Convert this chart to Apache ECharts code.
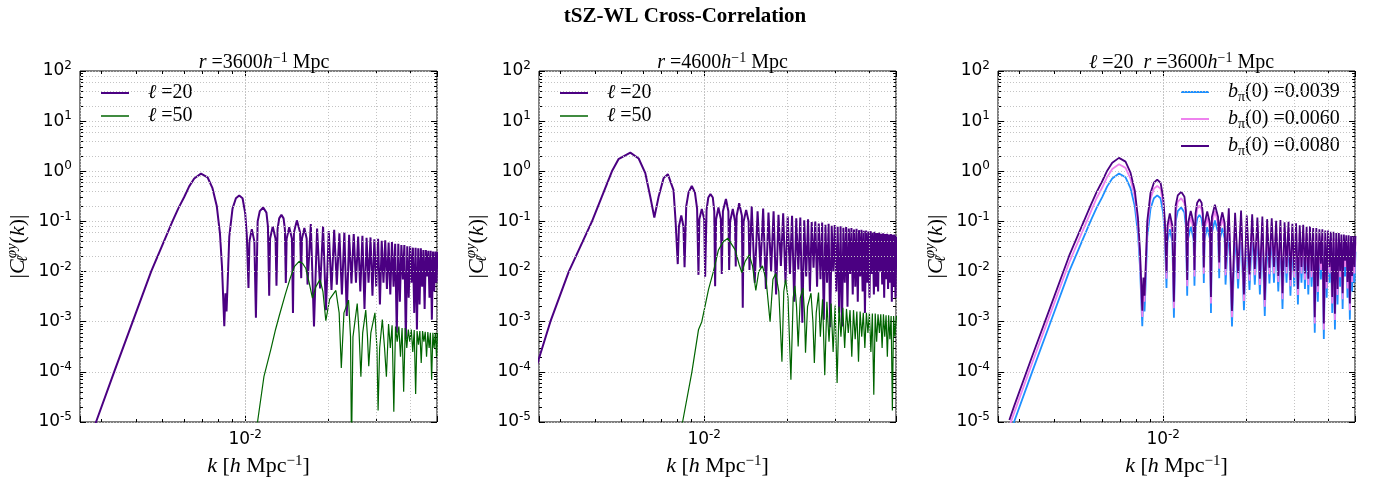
<!DOCTYPE html>
<html>
<head>
<meta charset="utf-8">
<script src="https://cdn.jsdelivr.net/npm/echarts@6/dist/echarts.min.js"></script>
<style>
  html, body { margin: 0; padding: 0; background: #fff; }
  #chart { width: 1377px; height: 483px; }
</style>
</head>
<body>
<div id="chart"></div>
<script>
// k [h/Mpc] for the l=20, r=3600 curve (panel 1 and panel 3 share it)
const kA = [
  0.00275, 0.00286, 0.00333, 0.00389, 0.00454, 0.00543, 0.0057, 0.006, 0.00625, 0.00652,
  0.0069, 0.00729, 0.0076, 0.00788, 0.00809, 0.00823, 0.00839, 0.00847, 0.00855, 0.00863,
  0.00875, 0.00899, 0.00925, 0.00951, 0.00978, 0.0100, 0.01014, 0.01028, 0.01036, 0.01057,
  0.0108, 0.01094, 0.0111, 0.0113, 0.01163, 0.01195, 0.0121, 0.01223, 0.01232, 0.0126,
  0.0129, 0.0130, 0.01312, 0.0133, 0.01355, 0.0138, 0.01395, 0.01406, 0.01416, 0.01447,
  0.0148, 0.01493, 0.01505, 0.01543, 0.01585, 0.0160, 0.0161, 0.01643, 0.01675, 0.01687,
  0.01734, 0.01781, 0.01828, 0.01875, 0.01922, 0.01969, 0.02016, 0.02063, 0.0211, 0.02157,
  0.02204, 0.02251, 0.02298, 0.02345, 0.02392, 0.02439, 0.02486, 0.02533, 0.0258, 0.02627,
  0.02674, 0.02721, 0.02768, 0.02815, 0.02862, 0.02909, 0.02956, 0.03003, 0.0305, 0.03097,
  0.03144, 0.03191, 0.03238, 0.03285, 0.03332, 0.03379, 0.03426, 0.03473, 0.0352, 0.03567,
  0.03614, 0.03661, 0.03708, 0.03755, 0.03802, 0.03849, 0.03896, 0.03943, 0.0399, 0.04037,
  0.04084, 0.04131, 0.04178, 0.04225, 0.04272, 0.04319, 0.04366, 0.04413, 0.0446, 0.04507,
  0.04554, 0.04601, 0.04648, 0.04695, 0.04742, 0.04789, 0.04836, 0.04883, 0.0493, 0.04977,
  0.0502
];
// |C| for b_pi(0)=0.0039 (= l=20 curve of panel 1)
const cA = [
  5.4e-6, 1e-5, 1e-4, 1e-3, 0.01, 0.1, 0.18, 0.31, 0.5, 0.72,
  0.9, 0.76, 0.46, 0.2, 0.058, 0.0126, 8.1e-4, 3.7e-3, 1.6e-3, 5.9e-3,
  0.05, 0.18, 0.29, 0.33, 0.29, 0.146, 0.05, 4.7e-3, 0.04, 0.07,
  0.04, 1.2e-3, 0.1, 0.16, 0.19, 0.15, 0.08, 3.3e-3, 0.045, 0.079,
  0.045, 5.2e-3, 0.07, 0.115, 0.135, 0.115, 0.07, 5.9e-3, 0.045, 0.077,
  0.045, 1.5e-3, 0.06, 0.105, 0.06, 7.4e-3, 0.045, 0.074, 0.045, 5.5e-3,
  0.089, 8e-4, 0.072, 4.6e-3, 0.08, 1.7e-3, 0.064, 4.3e-3, 0.068, 5.5e-3,
  0.058, 3.5e-3, 0.061, 1.3e-3, 0.054, 5.8e-3, 0.056, 6e-3, 0.05, 4e-3,
  0.052, 1.8e-3, 0.047, 6e-3, 0.048, 3.3e-3, 0.044, 5e-3, 0.045, 2.2e-3,
  0.041, 6e-3, 0.042, 4.5e-3, 0.038, 3.5e-3, 0.039, 5e-3, 0.036, 6e-4,
  0.036, 2.5e-3, 0.034, 7e-3, 0.034, 4.5e-4, 0.032, 3e-3, 0.032, 6e-3,
  0.03, 1.5e-3, 0.03, 7e-4, 0.029, 2.2e-3, 0.029, 5e-3, 0.027, 1.8e-3,
  0.027, 8e-3, 0.026, 3e-3, 0.026, 1.1e-3, 0.025, 4e-3, 0.025, 6e-3,
  0.025
];
// b_pi(0)=0.0060
const cA6 = [
  8.3e-6, 1.5e-5, 1.5e-4, 1.5e-3, 0.015, 0.15, 0.28, 0.48, 0.77, 1.11,
  1.38, 1.17, 0.71, 0.31, 0.089, 0.019, 1.25e-3, 5.7e-3, 2.5e-3, 9.1e-3,
  0.077, 0.28, 0.45, 0.51, 0.45, 0.225, 0.077, 7.2e-3, 0.062, 0.108,
  0.062, 1.85e-3, 0.154, 0.246, 0.29, 0.23, 0.123, 5.1e-3, 0.069, 0.122,
  0.069, 8e-3, 0.108, 0.177, 0.208, 0.177, 0.108, 9.1e-3, 0.069, 0.119,
  0.069, 2.3e-3, 0.092, 0.162, 0.092, 0.0114, 0.069, 0.114, 0.069, 8.5e-3,
  0.137, 1.23e-3, 0.111, 7.1e-3, 0.123, 2.6e-3, 0.099, 6.6e-3, 0.105, 8.5e-3,
  0.089, 5.4e-3, 0.094, 2e-3, 0.083, 8.9e-3, 0.086, 9.2e-3, 0.077, 6.2e-3,
  0.08, 2.8e-3, 0.072, 9.2e-3, 0.074, 5.1e-3, 0.068, 7.7e-3, 0.069, 3.4e-3,
  0.063, 9.2e-3, 0.065, 6.9e-3, 0.059, 5.4e-3, 0.06, 7.7e-3, 0.055, 9.2e-4,
  0.055, 3.9e-3, 0.052, 0.0108, 0.052, 6.9e-4, 0.049, 4.6e-3, 0.049, 9.2e-3,
  0.046, 2.3e-3, 0.046, 1.08e-3, 0.045, 3.4e-3, 0.045, 7.7e-3, 0.042, 2.8e-3,
  0.042, 0.0123, 0.04, 4.6e-3, 0.04, 1.7e-3, 0.0385, 6.2e-3, 0.0385, 9.2e-3,
  0.0385
];
// b_pi(0)=0.0080
const cA8 = [
  1.1e-5, 2.05e-5, 2.05e-4, 2.05e-3, 0.0205, 0.205, 0.37, 0.64, 1.03, 1.48,
  1.85, 1.56, 0.94, 0.41, 0.119, 0.026, 1.66e-3, 7.6e-3, 3.3e-3, 0.0121,
  0.103, 0.37, 0.59, 0.68, 0.59, 0.3, 0.103, 9.6e-3, 0.082, 0.144,
  0.082, 2.5e-3, 0.205, 0.33, 0.39, 0.31, 0.164, 6.8e-3, 0.092, 0.162,
  0.092, 0.0107, 0.144, 0.236, 0.277, 0.236, 0.144, 0.0121, 0.092, 0.158,
  0.092, 3.1e-3, 0.123, 0.215, 0.123, 0.0152, 0.092, 0.152, 0.092, 0.0113,
  0.182, 1.64e-3, 0.148, 9.4e-3, 0.164, 3.5e-3, 0.131, 8.8e-3, 0.139, 0.0113,
  0.119, 7.2e-3, 0.125, 2.7e-3, 0.111, 0.0119, 0.115, 0.0123, 0.103, 8.2e-3,
  0.107, 3.7e-3, 0.096, 0.0123, 0.098, 6.8e-3, 0.09, 0.0103, 0.092, 4.5e-3,
  0.084, 0.0123, 0.086, 9.2e-3, 0.078, 7.2e-3, 0.08, 0.0103, 0.074, 1.23e-3,
  0.074, 5.1e-3, 0.07, 0.0144, 0.07, 9.2e-4, 0.066, 6.2e-3, 0.066, 0.0123,
  0.062, 3.1e-3, 0.062, 1.44e-3, 0.059, 4.5e-3, 0.059, 0.0103, 0.055, 3.7e-3,
  0.055, 0.0164, 0.053, 6.2e-3, 0.053, 2.3e-3, 0.051, 8.2e-3, 0.051, 0.0123,
  0.051
];

// l=50, r=3600  [k, |C|]
const curveB = [
  [0.01095, 6e-6], [0.01109, 1e-5], [0.0117, 8e-5], [0.0124, 2.8e-4], [0.0129, 7e-4], [0.0133, 1.3e-3],
  [0.0140, 3.5e-3], [0.0146, 7.5e-3], [0.0151, 0.0125], [0.01573, 0.016], [0.0162, 0.0145], [0.01664, 0.0115],
  [0.0171, 6e-3], [0.01758, 2.95e-3], [0.0181, 5e-3], [0.01873, 6.9e-3], [0.0192, 4e-3], [0.01967, 1.05e-3],
  [0.0203, 2.8e-3], [0.0214, 4.2e-3], [0.022, 1.5e-3], [0.0224, 1.2e-4], [0.0229, 1.5e-3], [0.0238, 2.7e-3],
  [0.0242, 5e-4], [0.0244, 3e-6], [0.0247, 5e-4], [0.0256, 2.3e-3], [0.026, 6e-4], [0.0264, 8e-5],
  [0.0268, 6e-4], [0.0275, 1.7e-3], [0.0279, 5e-4], [0.0282, 1.3e-4], [0.0287, 6e-4], [0.0297, 1.5e-3],
  [0.0302, 3e-4], [0.0305, 1.7e-5], [0.0309, 3e-4], [0.0316, 1.1e-3], [0.0322, 3e-4], [0.0327, 8e-5],
  [0.0333, 9e-4], [0.0338, 3e-4], [0.0343, 8.5e-4], [0.0348, 1.6e-5], [0.0353, 8e-4], [0.0358, 4e-4],
  [0.0363, 8e-4], [0.0368, 2e-4], [0.0373, 7.5e-4], [0.0378, 4e-5], [0.0383, 7.5e-4], [0.0388, 3e-4],
  [0.0393, 7e-4], [0.0398, 4e-4], [0.0403, 7e-4], [0.0408, 2.5e-4], [0.0413, 6.8e-4], [0.0418, 3.6e-5],
  [0.0423, 6.5e-4], [0.0428, 3.5e-4], [0.0433, 6.5e-4], [0.0438, 1.5e-4], [0.0443, 6.5e-4], [0.0448, 4e-4],
  [0.0453, 6.3e-4], [0.0458, 2e-4], [0.0463, 6.2e-4], [0.0468, 3e-4], [0.0473, 6e-4], [0.0478, 7e-5],
  [0.0483, 6e-4], [0.0488, 3e-4], [0.0493, 6e-4], [0.0498, 2e-4], [0.0502, 6e-4]
];

// l=20, r=4600
const curveC = [
  [0.0024, 9e-5], [0.00247, 1.5e-4], [0.00275, 1e-3], [0.00321, 1e-2], [0.0039, 0.1], [0.00461, 1.0],
  [0.00487, 1.74], [0.00538, 2.36], [0.00577, 1.8], [0.0061, 0.92], [0.00636, 0.31], [0.00658, 0.12],
  [0.00682, 0.31], [0.00711, 0.73], [0.00737, 0.875], [0.00773, 0.42], [0.00787, 0.095], [0.00801, 0.0141],
  [0.00809, 0.08], [0.00825, 0.131], [0.0084, 0.08], [0.00848, 0.0122],
  [0.0086, 0.2], [0.00877, 0.38], [0.00901, 0.51], [0.00925, 0.38], [0.00942, 0.18], [0.00953, 8.6e-3],
  [0.0096, 0.11], [0.0098, 0.178], [0.01, 0.11], [0.01008, 7.9e-3],
  [0.0102, 0.17], [0.01035, 0.3], [0.01054, 0.35], [0.01075, 0.3], [0.01088, 0.16], [0.01096, 5.1e-3],
  [0.01105, 0.11], [0.01127, 0.189], [0.0115, 0.11], [0.01159, 9e-3],
  [0.0117, 0.16], [0.012, 0.28], [0.01225, 0.16], [0.01233, 0.0108],
  [0.01243, 0.1], [0.01271, 0.178], [0.01295, 0.1], [0.01303, 0.0126],
  [0.01313, 0.13], [0.01341, 0.23], [0.01372, 0.13], [0.01382, 1.9e-3],
  [0.01392, 0.1], [0.01422, 0.17], [0.01452, 0.1], [0.01462, 0.0108], [0.0149, 0.2],
  [0.01528, 6e-3], [0.01565, 0.16], [0.01603, 0.012], [0.0164, 0.18], [0.01678, 4.5e-3], [0.01715, 0.15],
  [0.01753, 0.010], [0.0179, 0.16], [0.01828, 3.5e-3], [0.01865, 0.135], [0.01903, 0.013], [0.0194, 0.145],
  [0.01978, 6e-3], [0.02015, 0.125], [0.02053, 9e-3], [0.0209, 0.13], [0.02128, 2.5e-3], [0.02165, 0.115],
  [0.02203, 0.011], [0.0224, 0.12], [0.02278, 9.5e-4], [0.02315, 0.105], [0.02353, 8e-3], [0.0239, 0.11],
  [0.02428, 4e-3], [0.02465, 0.097], [0.02503, 0.012], [0.0254, 0.10], [0.02578, 5e-3], [0.02615, 0.091],
  [0.02653, 7e-3], [0.0269, 0.095], [0.02728, 1.1e-3], [0.02765, 0.086], [0.02803, 6e-3], [0.0284, 0.09],
  [0.02878, 7.8e-4], [0.02915, 0.082], [0.02953, 0.010], [0.0299, 0.085], [0.03028, 4e-3], [0.03065, 0.078],
  [0.03103, 1.5e-3], [0.0314, 0.08], [0.03178, 8e-4], [0.03215, 0.075], [0.03253, 6e-3], [0.0329, 0.077],
  [0.03328, 2e-3], [0.03365, 0.072], [0.03403, 9e-3], [0.0344, 0.074], [0.03478, 3.5e-3], [0.03515, 0.069],
  [0.03553, 5e-3], [0.0359, 0.071], [0.03628, 2.5e-3], [0.03665, 0.067], [0.03703, 8e-3], [0.0374, 0.068],
  [0.03778, 4e-3], [0.03815, 0.065], [0.03853, 1.5e-3], [0.0389, 0.066], [0.03928, 6e-3], [0.03965, 0.063],
  [0.04003, 3e-3], [0.0404, 0.064], [0.04078, 9e-3], [0.04115, 0.061], [0.04153, 3.5e-3], [0.0419, 0.062],
  [0.04228, 5e-3], [0.04265, 0.059], [0.04303, 4e-3], [0.0434, 0.06], [0.04378, 0.01], [0.04415, 0.057],
  [0.04453, 5.5e-3], [0.0449, 0.058], [0.04528, 3e-3], [0.04565, 0.056], [0.04603, 7e-3], [0.0464, 0.057],
  [0.04678, 4.5e-3], [0.04715, 0.055], [0.04753, 6e-3], [0.0479, 0.056], [0.04828, 2.5e-3], [0.04865, 0.054],
  [0.04903, 5e-3], [0.0494, 0.055], [0.04978, 3e-3], [0.0502, 0.05]
];

// l=50, r=4600
const curveD = [
  [0.0082, 6e-6], [0.00834, 1e-5], [0.00902, 1e-4], [0.00953, 6.9e-4], [0.0098, 1e-3], [0.01037, 4.4e-3],
  [0.0108, 0.01], [0.01127, 0.027], [0.01175, 0.04], [0.0122, 0.046], [0.01297, 0.027], [0.0134, 0.014],
  [0.01371, 9.6e-3], [0.0141, 0.016], [0.01459, 0.0214], [0.015, 0.013], [0.01542, 4.2e-3], [0.0158, 0.01],
  [0.0163, 0.013], [0.0168, 7e-3], [0.01738, 1.0e-3], [0.0178, 7e-3], [0.01823, 9.1e-3], [0.0187, 4e-3],
  [0.0192, 1.6e-4], [0.0195, 4e-3], [0.0198, 6.9e-3], [0.0202, 3e-3], [0.0207, 7e-5], [0.0211, 3e-3],
  [0.0214, 5.2e-3], [0.0217, 2e-3], [0.022, 3.2e-4], [0.0224, 3e-3], [0.0229, 4.7e-3], [0.0232, 1.5e-3],
  [0.0234, 2.4e-4], [0.0238, 2e-3], [0.0245, 3.7e-3], [0.0249, 1e-3], [0.0252, 1.5e-4], [0.0256, 1.5e-3],
  [0.0261, 3.8e-3], [0.0265, 5e-4], [0.0270, 2.8e-3], [0.0275, 8.6e-5], [0.0280, 2.5e-3], [0.0285, 4e-4],
  [0.0290, 2.3e-3], [0.0295, 2.5e-4], [0.0300, 2.1e-3], [0.0305, 6e-5], [0.0310, 2.0e-3], [0.0315, 5e-4],
  [0.0320, 1.9e-3], [0.0325, 3e-4], [0.0330, 1.8e-3], [0.0335, 6e-4], [0.0340, 1.7e-3], [0.0345, 2e-4],
  [0.0350, 1.7e-3], [0.0355, 4.5e-4], [0.0360, 1.6e-3], [0.0365, 1.6e-4], [0.0370, 1.6e-3], [0.0375, 5e-4],
  [0.0380, 1.5e-3], [0.0385, 3e-4], [0.0390, 1.5e-3], [0.0395, 6e-4], [0.0400, 1.5e-3], [0.0405, 2.5e-4],
  [0.0410, 1.45e-3], [0.0415, 3.5e-5], [0.0420, 1.45e-3], [0.0425, 4e-4], [0.0430, 1.4e-3], [0.0435, 6e-4],
  [0.0440, 1.4e-3], [0.0445, 3e-4], [0.0450, 1.4e-3], [0.0455, 5e-4], [0.0460, 1.35e-3], [0.0465, 2e-4],
  [0.0470, 1.35e-3], [0.0475, 4.5e-4], [0.0480, 1.3e-3], [0.0485, 1.7e-5], [0.0490, 1.3e-3], [0.0495, 5e-4],
  [0.0502, 1.3e-3]
];

// grid lines / minor ticks as in the original (dotted)
const xMinorGrid = [0.003, 0.004, 0.005, 0.006, 0.007, 0.008, 0.009, 0.02, 0.03, 0.04];
const yMinorMant = [2, 4, 6, 8];
const yDecades = [-5, -4, -3, -2, -1, 0, 1];
const bpi = ['0.0039', '0.0060', '0.0080'];

const panels = [
  { left: 80, cx: 259 },
  { left: 539, cx: 717.5 },
  { left: 998, cx: 1176.5 }
];
const W = 357, H = 351, TOP = 71;

const serif = 'Liberation Serif';
function tok(size, italic, lh, va, extra) {
  return Object.assign({ fontFamily: serif, fontStyle: italic ? 'italic' : 'normal', fontWeight: 'normal',
    fontSize: size, color: '#000', lineHeight: lh, verticalAlign: va }, extra || {});
}
const mathRich = {
  n: tok(20, false, 24, 'middle'),
  i: tok(20, true, 24, 'middle'),
  sup: tok(14, false, 10, 'top'),
  sub: tok(14, false, 12, 'bottom')
};
const nameRich = {
  n: tok(22, false, 26, 'middle'),
  i: tok(22, true, 26, 'middle'),
  sup: tok(15, false, 10, 'top'),
  supi: tok(15, true, 12, 'top'),
  subx: tok(15, true, 12, 'bottom', { width: 1 })
};
const tickRich = {
  b: { fontFamily: 'DejaVu Sans', fontSize: 17, color: '#000', lineHeight: 22, verticalAlign: 'middle' },
  e: { fontFamily: 'DejaVu Sans', fontSize: 12, color: '#000', lineHeight: 8, verticalAlign: 'top' }
};
function powLabel(v) {
  const e = Math.round(Math.log10(v));
  return '{b|10}{e|' + e + '}';
}

const dotted = { color: '#c4c4c4', type: [1, 2], width: 1 };

const xAxes = [], yAxes = [], grids = [];
panels.forEach((p, g) => {
  grids.push({ left: p.left, top: TOP, width: W, height: H, show: true, borderColor: '#000', borderWidth: 1,
    backgroundColor: 'transparent', containLabel: false, outerBoundsMode: 'none' });
  const xBase = {
    type: 'log', logBase: 10, min: 0.0025, max: 0.05, gridIndex: g,
    axisLine: { show: false },
    splitLine: { show: false },
    minorTick: { show: true, splitNumber: 9, length: 3, lineStyle: { color: '#000', width: 1 } },
    axisTick: { show: true, inside: true, length: 6, lineStyle: { color: '#000', width: 1 } }
  };
  xAxes.push(Object.assign({}, xBase, {
    position: 'bottom',
    splitLine: { show: true, lineStyle: dotted },
    axisLabel: { show: true, margin: 7, showMinLabel: false, showMaxLabel: false,
      formatter: powLabel, rich: tickRich },
    name: '{i|k}{n| [}{i|h}{n| Mpc}{sup|−1}{n|]}', nameLocation: 'middle', nameGap: 29,
    nameTextStyle: { rich: nameRich }
  }));
  xAxes.push(Object.assign({}, xBase, { position: 'top', axisLabel: { show: false } }));
  const yBase = {
    type: 'log', logBase: 10, min: 1e-5, max: 100, gridIndex: g,
    axisLine: { show: false },
    splitLine: { show: false },
    axisTick: { show: true, inside: true, length: 6, lineStyle: { color: '#000', width: 1 } },
    minorTick: { show: true, splitNumber: 9, length: 3, lineStyle: { color: '#000', width: 1 } }
  };
  yAxes.push(Object.assign({}, yBase, {
    position: 'left',
    splitLine: { show: true, lineStyle: dotted },
    axisLabel: { show: true, margin: 8, showMinLabel: true, showMaxLabel: true,
      formatter: powLabel, rich: tickRich },
    name: '{n||}{i|C}{subx|ℓ}{supi|φy}{n|(}{i|k}{n|)|}', nameLocation: 'middle', nameGap: 49,
    nameTextStyle: { rich: nameRich }
  }));
  yAxes.push(Object.assign({}, yBase, { position: 'right', axisLabel: { show: false } }));
});

function gridLines(g) {
  const data = xMinorGrid.map(v => ({ xAxis: v }));
  yDecades.forEach(d => yMinorMant.forEach(m => data.push({ yAxis: m * Math.pow(10, d) })));
  return {
    type: 'line', data: [], xAxisIndex: 2 * g, yAxisIndex: 2 * g, z: 1, silent: true,
    markLine: { silent: true, symbol: 'none', animation: false, label: { show: false },
      lineStyle: dotted, emphasis: { disabled: true }, data: data }
  };
}
function curve(name, data, g, color, width) {
  return {
    name: name, type: 'line', data: data, xAxisIndex: 2 * g, yAxisIndex: 2 * g,
    showSymbol: false, symbol: 'none', clip: true, z: 3, silent: true, animation: false,
    lineStyle: { color: color, width: width }, itemStyle: { color: color }
  };
}
const zipA = vals => kA.map((k, i) => [k, vals[i]]);

const INDIGO = '#4b0082', GREEN = '#006400', BLUE = '#1e90ff', VIOLET = '#ee82ee';

const series = [
  gridLines(0), gridLines(1), gridLines(2),
  curve('p1_20', zipA(cA), 0, INDIGO, 2),
  curve('p1_50', curveB, 0, GREEN, 1.2),
  curve('p2_20', curveC, 1, INDIGO, 2),
  curve('p2_50', curveD, 1, GREEN, 1.2),
  curve('p3_a', zipA(cA), 2, BLUE, 1.8),
  curve('p3_b', zipA(cA6), 2, VIOLET, 1.8),
  curve('p3_c', zipA(cA8), 2, INDIGO, 1.8)
];

const legendText = {
  p1_20: '{i|ℓ}{n| =20}', p1_50: '{i|ℓ}{n| =50}',
  p2_20: '{i|ℓ}{n| =20}', p2_50: '{i|ℓ}{n| =50}',
  p3_a: '{i|b}{sub|π}{n|(0) =' + bpi[0] + '}',
  p3_b: '{i|b}{sub|π}{n|(0) =' + bpi[1] + '}',
  p3_c: '{i|b}{sub|π}{n|(0) =' + bpi[2] + '}'
};
function legendFor(names, left, top, gap, icons) {
  return {
    left: left, top: top, orient: 'vertical', itemWidth: 28, itemHeight: 2, itemGap: gap,
    selectedMode: false, padding: 0,
    data: names.map((n, i) => ({ name: n, icon: icons[i] })),
    formatter: n => legendText[n],
    textStyle: { rich: mathRich, padding: [0, 0, 0, 14] }
  };
}
const thin = 'path://M0,0h28v1.5h-28z';

const chart = echarts.init(document.getElementById('chart'), null, { renderer: 'canvas' });
chart.setOption({
  animation: false,
  backgroundColor: '#fff',
  title: [
    { text: 'tSZ-WL Cross-Correlation', left: 680, top: 1, textAlign: 'center',
      textStyle: { fontFamily: serif, fontWeight: 'bold', fontSize: 21, color: '#000' } },
    { text: '{i|r}{n| =3600}{i|h}{sup|−1}{n| Mpc}', left: panels[0].cx, top: 46, textAlign: 'center',
      textStyle: { fontWeight: 'normal', rich: mathRich } },
    { text: '{i|r}{n| =4600}{i|h}{sup|−1}{n| Mpc}', left: panels[1].cx, top: 46, textAlign: 'center',
      textStyle: { fontWeight: 'normal', rich: mathRich } },
    { text: '{i|ℓ}{n| =20  }{i|r}{n| =3600}{i|h}{sup|−1}{n| Mpc}', left: panels[2].cx, top: 46, textAlign: 'center',
      textStyle: { fontWeight: 'normal', rich: mathRich } }
  ],
  legend: [
    legendFor(['p1_20', 'p1_50'], 101, 83, 3, ['rect', thin]),
    legendFor(['p2_20', 'p2_50'], 560, 83, 3, ['rect', thin]),
    legendFor(['p3_a', 'p3_b', 'p3_c'], 1181, 82, 5, ['rect', 'rect', 'rect'])
  ],
  grid: grids,
  xAxis: xAxes,
  yAxis: yAxes,
  series: series
});
</script>
</body>
</html>
